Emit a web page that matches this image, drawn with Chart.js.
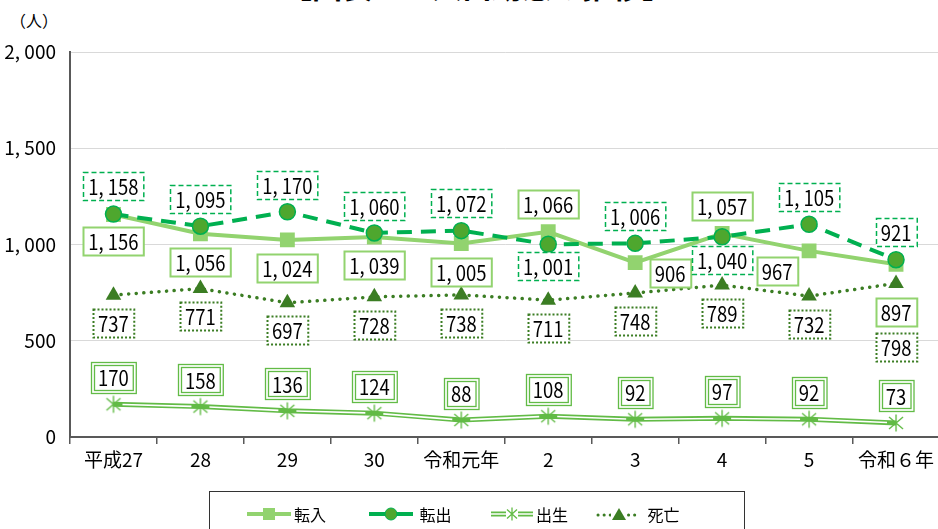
<!DOCTYPE html>
<html lang="ja">
<head>
<meta charset="utf-8">
<script src="https://cdn.jsdelivr.net/npm/chart.js@4"></script>
<style>
  html, body { margin: 0; padding: 0; background: #fff; overflow: hidden; }
  body { width: 938px; height: 529px; position: relative; font-family: "Noto Sans CJK JP", sans-serif; }
  #titulo { position: absolute; left: 0; width: 954px; top: -30px; text-align: center; font-size: 30px; font-weight: bold; line-height: 30px; color: #000; }
  #unidade { position: absolute; left: 10px; top: 8px; font-size: 16px; color: #000; }
  #grafico { position: absolute; left: 0; top: 0; }
  #legenda { position: absolute; left: 209px; top: 491px; width: 536px; height: 60px; border: 1px solid #333; box-sizing: border-box; }
  .item { position: absolute; top: 12px; display: flex; align-items: center; font-size: 16px; line-height: 20px; color: #000; }
  .item svg { margin-right: 2px; }
</style>
</head>
<body>
<div id="titulo">【図表３　人口動態の推移】</div>
<div id="unidade">（人）</div>
<canvas id="grafico" width="950" height="529"></canvas>
<div id="legenda">
  <div class="item" style="left:36px">
    <svg width="46" height="16"><line x1="1" y1="8" x2="45" y2="8" stroke="#92D36F" stroke-width="4"/><rect x="17" y="2" width="12" height="12" fill="#92D36F"/></svg>転入
  </div>
  <div class="item" style="left:158px">
    <svg width="46" height="16"><line x1="1" y1="8" x2="45" y2="8" stroke="#00B050" stroke-width="4"/><circle cx="23" cy="8" r="6" fill="#4EA72E" stroke="#00B050" stroke-width="1"/></svg>&nbsp;転出
  </div>
  <div class="item" style="left:280px">
    <svg width="44" height="16"><line x1="1" y1="8" x2="43" y2="8" stroke="#62BB46" stroke-width="5"/><line x1="1" y1="8" x2="43" y2="8" stroke="#fff" stroke-width="1.5"/><rect x="16" y="2" width="12" height="12" fill="#fff"/><path d="M22 1.5V14.5M17 3.5L27 12.5M17 12.5L27 3.5" stroke="#62BB46" stroke-width="1.3"/></svg>出生
  </div>
  <div class="item" style="left:386px">
    <svg width="46" height="16"><line x1="2" y1="9" x2="44" y2="9" stroke="#3B7D23" stroke-width="3" stroke-linecap="round" stroke-dasharray="0.1 6"/><rect x="15" y="2" width="16" height="14" fill="#fff"/><path d="M23 2L30 14H16Z" fill="#3B7D23"/></svg>&nbsp;死亡
  </div>
</div>
<script>
const anos = ['平成27', '28', '29', '30', '令和元年', '2', '3', '4', '5', '令和６年'];
const tenyu   = [1156, 1056, 1024, 1039, 1005, 1066, 906, 1057, 967, 897];
const tenshutsu = [1158, 1095, 1170, 1060, 1072, 1001, 1006, 1040, 1105, 921];
const shusshou = [170, 158, 136, 124, 88, 108, 92, 97, 92, 73];
const shibou  = [737, 771, 697, 728, 738, 711, 748, 789, 732, 798];
const ticksY  = [0, 500, 1000, 1500, 2000];

// posição dos rótulos em relação ao ponto (px)
const posTenyu     = [[0,27],[0,28],[0,28],[0,28],[0,28],[0,-28],[35,10],[0,-28],[-32,20],[0,48]];
const posTenshutsu = [[0,-28],[0,-27],[0,-27],[0,-27],[0,-28],[0,22],[0,-27],[0,23],[0,-27],[0,-28]];
const posShusshou  = [[0,-27],[0,-27],[0,-27],[0,-27],[0,-27],[0,-27],[0,-27],[0,-27],[0,-27],[0,-27]];
const posShibou    = [[0,28],[0,27],[0,27],[0,28],[0,28],[0,28],[0,28],[0,28],[0,28],[0,64]];

const FONTE = '"Noto Sans CJK JP", sans-serif';
const ESTREITO = 0.88;

function formatarNumero(n) {
  const s = String(n);
  return s.length > 3 ? s.slice(0, -3) + ', ' + s.slice(-3) : s;
}

function marcadorAsterisco() {
  const c = document.createElement('canvas');
  c.width = 18; c.height = 20;
  const g = c.getContext('2d');
  g.strokeStyle = '#62BB46';
  g.lineWidth = 1.4;
  g.beginPath();
  g.moveTo(9, 1.5); g.lineTo(9, 18.5);
  g.moveTo(2, 4); g.lineTo(16, 16);
  g.moveTo(2, 16); g.lineTo(16, 4);
  g.stroke();
  return c;
}

const estilosRotulo = [
  { pos: posTenyu,     cor: '#92D36F', largura: 2,   dash: [],     duplo: false },
  { pos: posTenshutsu, cor: '#00B050', largura: 1.5, dash: [5, 3], duplo: false },
  { pos: posShusshou,  cor: '#62BB46', largura: 1.3, dash: [],     duplo: true },
  { pos: posShibou,    cor: '#3B7D23', largura: 2,   dash: [2, 2], duplo: false },
];

const pluginLinhaDupla = {
  id: 'linhaDupla',
  afterDatasetDraw(chart, args) {
    if (args.index !== 2) return;
    const pts = args.meta.data;
    const c = chart.ctx;
    c.save();
    c.strokeStyle = '#fff';
    c.lineWidth = 1.6;
    for (let i = 0; i < pts.length - 1; i++) {
      const a = pts[i], b = pts[i + 1];
      const dx = b.x - a.x, dy = b.y - a.y;
      const len = Math.hypot(dx, dy);
      const ux = dx / len, uy = dy / len;
      c.beginPath();
      c.moveTo(a.x + ux * 9, a.y + uy * 9);
      c.lineTo(b.x - ux * 9, b.y - uy * 9);
      c.stroke();
    }
    c.restore();
  }
};

const pluginRotulos = {
  id: 'rotulos',
  afterDatasetsDraw(chart) {
    const c = chart.ctx;
    c.save();
    c.font = '21px ' + FONTE;
    c.textAlign = 'center';
    c.textBaseline = 'middle';
    chart.data.datasets.forEach((ds, di) => {
      const est = estilosRotulo[di];
      const meta = chart.getDatasetMeta(di);
      meta.data.forEach((p, i) => {
        const txt = formatarNumero(ds.data[i]);
        const w = c.measureText(txt).width * ESTREITO + (est.duplo ? 14 : 10);
        const h = est.duplo ? 31 : 28;
        const cx = p.x + est.pos[i][0];
        const cy = p.y + est.pos[i][1];
        const x0 = Math.round(cx - w / 2) + 0.5, y0 = Math.round(cy - h / 2) + 0.5;
        c.fillStyle = '#fff';
        c.fillRect(x0, y0, w, h);
        c.strokeStyle = est.cor;
        c.lineWidth = est.largura;
        c.setLineDash(est.dash);
        c.strokeRect(x0, y0, w, h);
        if (est.duplo) c.strokeRect(x0 + 3, y0 + 3, w - 6, h - 6);
        c.setLineDash([]);
        c.fillStyle = '#000';
        c.save();
        c.translate(cx, cy + 1);
        c.scale(ESTREITO, 1);
        c.fillText(txt, 0, 0);
        c.restore();
      });
    });
    c.restore();
  }
};

const ctx = document.getElementById('grafico').getContext('2d');
new Chart(ctx, {
  type: 'line',
  data: {
    labels: anos,
    datasets: [
      {
        label: '転入',
        data: tenyu,
        borderColor: '#92D36F',
        backgroundColor: '#92D36F',
        borderWidth: 4,
        pointStyle: 'rect',
        pointRadius: 10.5,
        pointBorderWidth: 0,
        order: 2,
      },
      {
        label: '転出',
        data: tenshutsu,
        borderColor: '#00B050',
        backgroundColor: '#4EA72E',
        borderWidth: 4,
        borderDash: [15, 9],
        pointStyle: 'circle',
        pointRadius: 8,
        pointBorderWidth: 1.5,
        pointBorderColor: '#00B050',
        order: 1,
      },
      {
        label: '出生',
        data: shusshou,
        borderColor: '#62BB46',
        backgroundColor: '#62BB46',
        borderWidth: 5,
        pointStyle: marcadorAsterisco(),
        order: 4,
      },
      {
        label: '死亡',
        data: shibou,
        borderColor: '#3B7D23',
        backgroundColor: '#3B7D23',
        borderWidth: 3.5,
        borderDash: [0.1, 7.5],
        borderCapStyle: 'round',
        pointStyle: 'triangle',
        pointRadius: 9,
        pointBorderWidth: 0,
        order: 3,
      },
    ]
  },
  options: {
    responsive: false,
    animation: false,
    layout: { padding: { top: 52, right: 4, bottom: 52, left: 0 } },
    plugins: {
      legend: { display: false },
      tooltip: { enabled: false },
    },
    elements: { line: { tension: 0 } },
    scales: {
      x: {
        offset: true,
        grid: { offset: true, drawOnChartArea: false, drawTicks: true, tickLength: 7, color: '#595959', lineWidth: 1.5 },
        border: { color: '#595959', width: 2 },
        ticks: { color: '#000', font: { family: FONTE, size: 19 }, padding: 4, maxRotation: 0, autoSkip: false },
        afterFit(s) { s.height = 40; },
      },
      y: {
        min: 0,
        max: 2000,
        afterBuildTicks(s) { s.ticks = ticksY.map(v => ({ value: v })); },
        grid: { color: '#d9d9d9', lineWidth: 1, drawTicks: false },
        border: { color: '#595959', width: 2 },
        ticks: { color: '#000', font: { family: FONTE, size: 19 }, padding: 14, callback: v => formatarNumero(v) },
        afterFit(s) { s.width = 70; },
      }
    }
  },
  plugins: [pluginLinhaDupla, pluginRotulos]
});
</script>
</body>
</html>
